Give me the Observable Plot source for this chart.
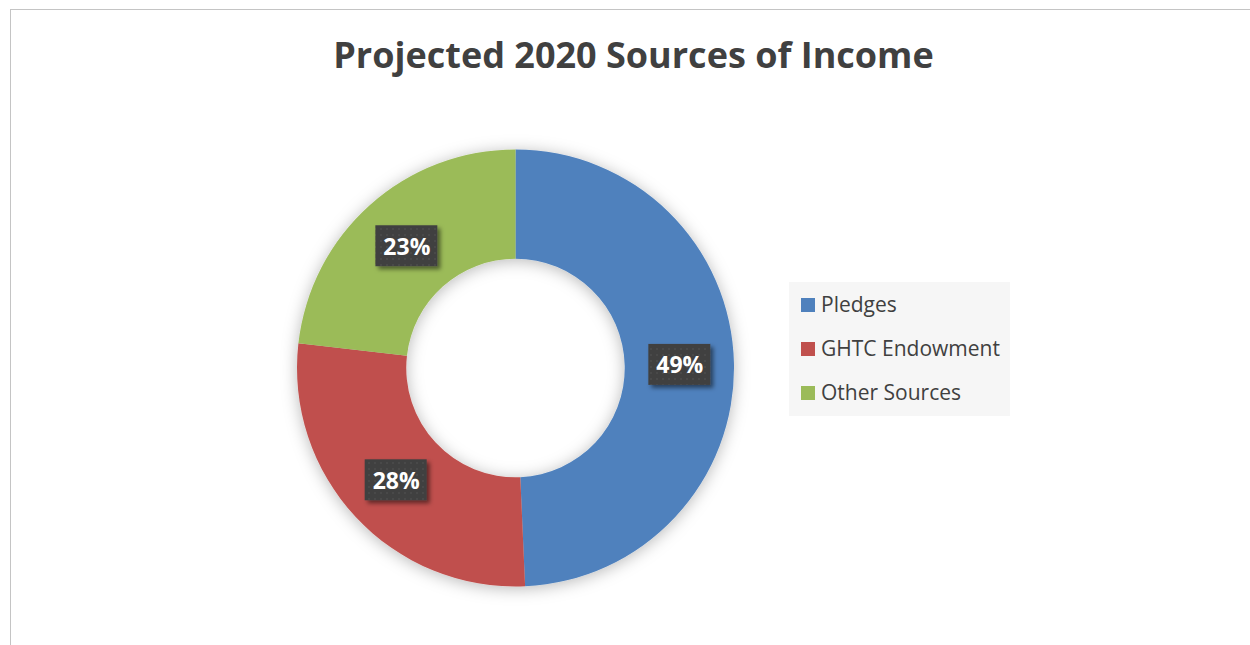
<!DOCTYPE html>
<html><head><meta charset="utf-8">
<script src="https://cdn.jsdelivr.net/npm/d3@7"></script>
<script src="https://cdn.jsdelivr.net/npm/@observablehq/plot@0.6"></script>
<style>
html,body{margin:0;padding:0;background:#fff;}
#frame{position:relative;width:1250px;height:645px;overflow:hidden;font-family:"Open Sans",sans-serif;}
#border{position:absolute;left:10px;top:9px;width:1300px;height:700px;border-top:1px solid #c4c4c4;border-left:1px solid #c4c4c4;}
#title{position:absolute;left:0;width:1267px;top:37px;text-align:center;font-weight:700;font-size:36px;line-height:36px;color:#404040;white-space:nowrap;}
#chart{position:absolute;left:0;top:100px;}
#legend{position:absolute;left:789px;top:282px;width:221px;height:134px;background:#f6f6f6;}
.item{position:absolute;left:12px;height:21px;font-size:21px;line-height:21px;color:#404040;white-space:nowrap;}
.sw{position:absolute;left:0;top:4px;width:14px;height:14px;}
.lab{position:absolute;left:20px;top:0;}
</style>
</head><body>
<div id="frame">
  <div id="border"></div>
  <div id="title">Projected 2020 Sources of Income</div>
  <div id="chart"></div>
  <div id="legend"></div>
</div>
<script>
const categories = ["Pledges", "GHTC Endowment", "Other Sources"];
const values = [49.3, 27.5, 23.2];
const labels = ["49%", "28%", "23%"];
const colors = ["#4F81BD", "#C0504D", "#9BBB59"];
const innerRatio = 0.5;

const data = categories.map((c, i) => ({category: c, value: values[i], label: labels[i], color: colors[i]}));
const pie = d3.pie().value(d => d.value).sort(null)(data);
const rm = (1 + innerRatio) / 2;
pie.forEach(p => {
  const a = (p.startAngle + p.endAngle) / 2;
  p.data.cx = rm * Math.sin(a);
  p.data.cy = rm * Math.cos(a);
});

function donut(index, scales, vals, dimensions, context) {
  const cx = scales.x(0), cy = scales.y(0);
  const r = scales.x(1) - scales.x(0);
  const g = d3.create("svg:g");
  const defs = g.append("defs");
  const f = defs.append("filter").attr("id", "ringShadow").attr("x", "-20%").attr("y", "-20%").attr("width", "140%").attr("height", "140%");
  f.append("feDropShadow").attr("dx", 0).attr("dy", 2).attr("stdDeviation", 8).attr("flood-color", "#000").attr("flood-opacity", 0.28);
  const f2 = defs.append("filter").attr("id", "boxShadow").attr("x", "-30%").attr("y", "-30%").attr("width", "160%").attr("height", "160%");
  f2.append("feDropShadow").attr("dx", 3).attr("dy", 3).attr("stdDeviation", 2).attr("flood-color", "#000").attr("flood-opacity", 0.5);
  const pat = defs.append("pattern").attr("id", "dots").attr("width", 6).attr("height", 6).attr("patternUnits", "userSpaceOnUse");
  pat.append("rect").attr("width", 6).attr("height", 6).attr("fill", "#404040");
  pat.append("circle").attr("cx", 3).attr("cy", 3).attr("r", 0.9).attr("fill", "#4c4c4c");
  const arc = d3.arc().innerRadius(r * innerRatio).outerRadius(r);
  const ring = g.append("g").attr("transform", `translate(${cx},${cy})`).attr("filter", "url(#ringShadow)");
  ring.selectAll("path").data(pie).join("path").attr("d", arc).attr("fill", d => d.data.color);
  const boxes = g.append("g").attr("filter", "url(#boxShadow)");
  boxes.selectAll("rect").data(pie).join("rect")
    .attr("x", d => scales.x(d.data.cx) - 31)
    .attr("y", d => scales.y(d.data.cy) - 20.5)
    .attr("width", 62).attr("height", 41)
    .attr("fill", "url(#dots)");
  return g.node();
}

const plot = Plot.plot({
  width: 1250,
  height: 545,
  margin: 0,
  x: {domain: [-1, 1], range: [297, 734], axis: null},
  y: {domain: [-1, 1], range: [486.5, 49.5], axis: null},
  style: {background: "transparent", overflow: "visible"},
  marks: [
    donut,
    Plot.text(pie.map(p => p.data), {
      x: "cx", y: "cy", text: "label",
      fill: "white", fontWeight: "bold", fontSize: 23,
      fontFamily: "Open Sans", dy: 1
    })
  ]
});
document.getElementById("chart").appendChild(plot);

const legend = d3.select("#legend");
data.forEach((d, i) => {
  const it = legend.append("div").attr("class", "item").style("top", (12 + 44 * i) + "px");
  it.append("div").attr("class", "sw").style("background", d.color);
  it.append("div").attr("class", "lab").text(d.category);
});
</script>
</body></html>
